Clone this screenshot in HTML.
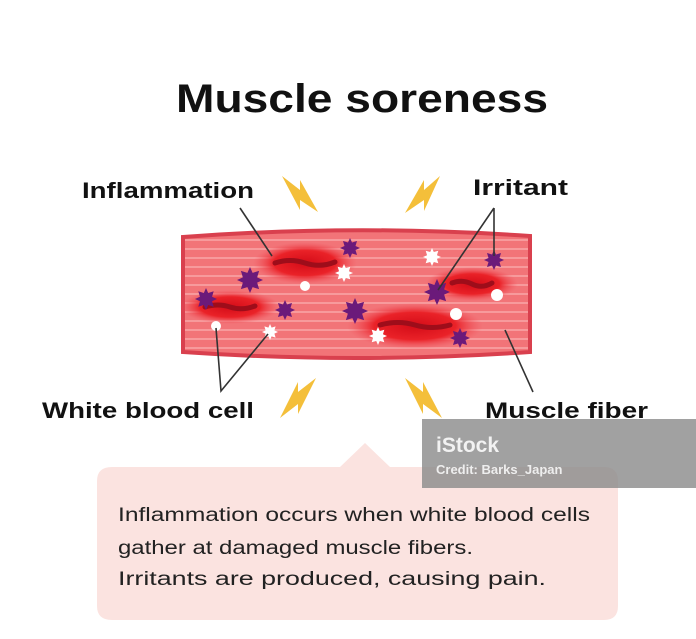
<!DOCTYPE html>
<html><head><meta charset="utf-8"><style>
html,body{margin:0;padding:0;background:#fff;}
svg{display:block;}
</style></head><body>
<svg width="696" height="639" viewBox="0 0 696 639" xmlns="http://www.w3.org/2000/svg" font-family="Liberation Sans, sans-serif">
<defs>
<radialGradient id="inf" cx="50%" cy="50%" r="50%">
<stop offset="0" stop-color="#d40c18"/><stop offset="0.6" stop-color="#ea2228"/><stop offset="1" stop-color="#f0505a" stop-opacity="0"/>
</radialGradient>
<pattern id="stripes" width="10" height="9" patternUnits="userSpaceOnUse">
<rect width="10" height="9" fill="#f27478"/><rect y="5" width="10" height="2" fill="#f79a9c"/>
</pattern>
<polygon id="star" points="0,-1 0.2,-0.55 0.7,-0.7 0.55,-0.2 1,0 0.55,0.2 0.7,0.7 0.2,0.55 0,1 -0.2,0.55 -0.7,0.7 -0.55,0.2 -1,0 -0.55,-0.2 -0.7,-0.7 -0.2,-0.55"/>
</defs>
<rect width="696" height="639" fill="#fff"/>
<text x="362" y="112" font-size="40" font-weight="bold" text-anchor="middle" textLength="372" lengthAdjust="spacingAndGlyphs" fill="#111">Muscle soreness</text>
<text x="82" y="198" font-size="22" font-weight="bold" textLength="172" lengthAdjust="spacingAndGlyphs" fill="#111">Inflammation</text>
<text x="473" y="195" font-size="22" font-weight="bold" textLength="95" lengthAdjust="spacingAndGlyphs" fill="#111">Irritant</text>
<text x="42" y="418" font-size="22" font-weight="bold" textLength="212" lengthAdjust="spacingAndGlyphs" fill="#111">White blood cell</text>
<text x="485" y="418" font-size="22" font-weight="bold" textLength="163" lengthAdjust="spacingAndGlyphs" fill="#111">Muscle fiber</text>
<g fill="#f4bf3a">
<polygon points="282,176 300,190 300,180 318,212 300,200 300,210"/>
<polygon points="440,176 424,190 424,180 405,213 424,200 424,211"/>
<polygon points="316,378 298,392 298,382 280,418 298,404 298,414"/>
<polygon points="405,378 423,392 423,382 442,418 423,404 423,414"/>
</g>
<path d="M183,237 Q355,224 530,236 L530,352 Q355,364 183,352 Z" fill="url(#stripes)" stroke="#d9404e" stroke-width="4"/>
<ellipse cx="305" cy="263" rx="52" ry="21" fill="url(#inf)"/>
<ellipse cx="230" cy="307" rx="50" ry="17" fill="url(#inf)"/>
<ellipse cx="415" cy="326" rx="68" ry="23" fill="url(#inf)"/>
<ellipse cx="472" cy="284" rx="46" ry="17" fill="url(#inf)"/>
<g stroke="#9e0d1a" stroke-width="5" fill="none" stroke-linecap="round">
<path d="M275,263 Q290,258 305,263 T335,262"/><path d="M205,307 Q218,303 230,307 T255,306"/>
<path d="M380,325 Q398,320 415,325 T450,325"/><path d="M452,283 Q462,279 472,284 T492,283"/>
</g>
<g fill="#6b1a7a">
<use href="#star" transform="translate(250,280) scale(13)"/>
<use href="#star" transform="translate(206,299) scale(11)"/>
<use href="#star" transform="translate(350,248) scale(10)"/>
<use href="#star" transform="translate(285,310) scale(10)"/>
<use href="#star" transform="translate(355,311) scale(13)"/>
<use href="#star" transform="translate(437,292) scale(13)"/>
<use href="#star" transform="translate(494,260) scale(10)"/>
<use href="#star" transform="translate(460,338) scale(10)"/>
</g>
<g fill="#fff">
<use href="#star" transform="translate(344,273) scale(9)"/>
<circle cx="305" cy="286" r="5"/>
<circle cx="216" cy="326" r="5"/>
<use href="#star" transform="translate(270,332) scale(8)"/>
<use href="#star" transform="translate(378,336) scale(9)"/>
<use href="#star" transform="translate(432,257) scale(9)"/>
<circle cx="497" cy="295" r="6"/>
<circle cx="456" cy="314" r="6"/>
</g>
<g stroke="#333" stroke-width="1.6" fill="none">
<path d="M240,208 L272,256"/>
<path d="M494,208 L494,256 M494,208 L438,290"/>
<path d="M216,328 L221,391 L268,334"/>
<path d="M505,330 L533,392"/>
</g>
<path d="M112,467 L340,467 L365,443 L390,467 L604,467 Q618,467 618,481 L618,606 Q618,620 604,620 L112,620 Q97,620 97,606 L97,481 Q97,467 112,467 Z" fill="#fbe3e0"/>
<g font-size="19" fill="#222">
<text x="118" y="521" textLength="472" lengthAdjust="spacingAndGlyphs">Inflammation occurs when white blood cells</text>
<text x="118" y="554" textLength="355" lengthAdjust="spacingAndGlyphs">gather at damaged muscle fibers.</text>
<text x="118" y="585" textLength="428" lengthAdjust="spacingAndGlyphs">Irritants are produced, causing pain.</text>
</g>
<rect x="422" y="419" width="274" height="69" fill="#8a8a8a" fill-opacity="0.8"/>
<text x="436" y="452" font-size="21" font-weight="bold" fill="#f2f2f2">iStock</text>
<text x="436" y="474" font-size="13" font-weight="bold" fill="#eee">Credit: Barks_Japan</text>
</svg>
</body></html>
